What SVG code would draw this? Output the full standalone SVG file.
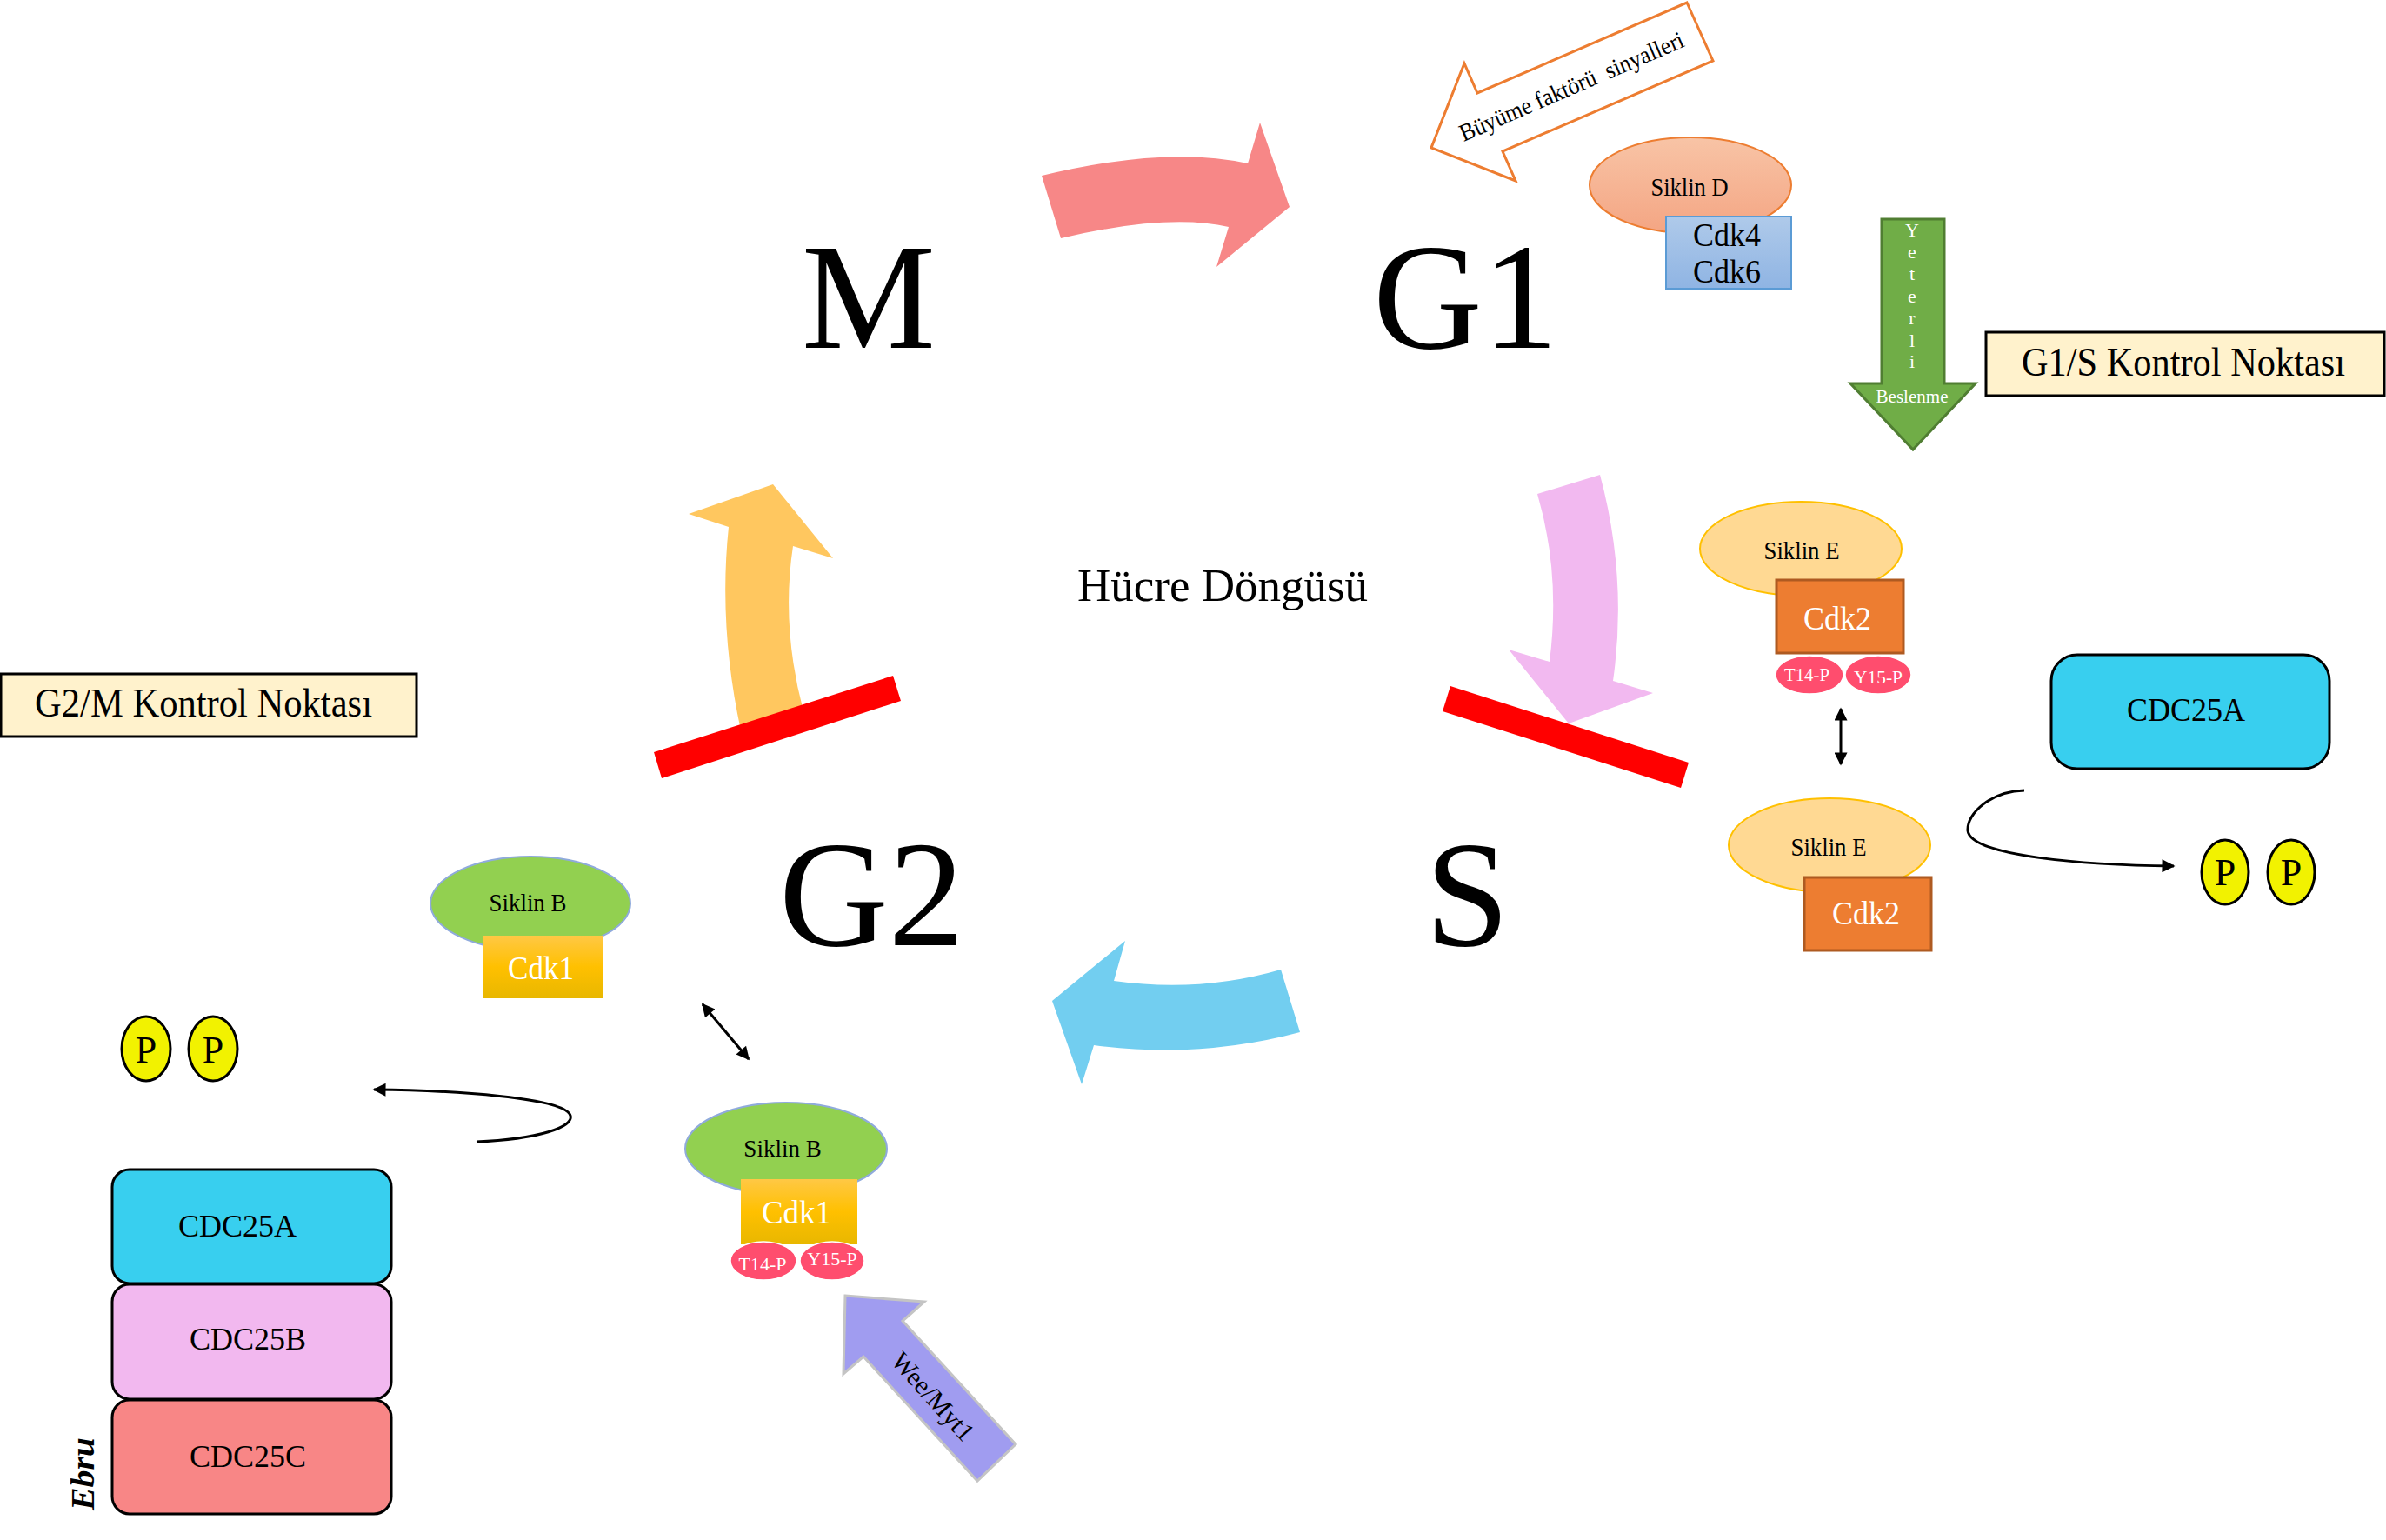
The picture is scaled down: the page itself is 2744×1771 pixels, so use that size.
<svg xmlns="http://www.w3.org/2000/svg" width="2744" height="1771" viewBox="0 0 2744 1771">
<defs>
<style>
text{font-family:"Liberation Serif","Times New Roman",serif;fill:#000}
.big{font-size:174px}
.w{fill:#fff}
.lbl{font-size:29px;text-anchor:middle}
.cdk{font-size:38px;text-anchor:middle}
.ph{font-size:22px;text-anchor:middle;fill:#fff}
.pt{font-size:44px;text-anchor:middle}
.pc{fill:#F2F200;stroke:#000;stroke-width:3}
.phos{fill:#FF4D6E;stroke:#fff;stroke-width:1.5}
.sikE{fill:#FFD993;stroke:#FFC000;stroke-width:2}
.sikB{fill:#92D050;stroke:#8FAADC;stroke-width:2}
.cdk2{fill:#ED7D31;stroke:#AE5A21;stroke-width:3}
.cdk1{fill:url(#gY)}
.ctl{fill:#FFF2CC;stroke:#000;stroke-width:3}
.cdc{stroke:#000;stroke-width:3}
.ln{fill:none;stroke:#000;stroke-width:3}
.bar{fill:#FF0000}
</style>
<linearGradient id="gD" x1="0" y1="0" x2="0" y2="1"><stop offset="0" stop-color="#F8C4A6"/><stop offset="1" stop-color="#F4A583"/></linearGradient>
<linearGradient id="gB" x1="0" y1="0" x2="0" y2="1"><stop offset="0" stop-color="#AFCAEA"/><stop offset="1" stop-color="#8FB4E3"/></linearGradient>
<linearGradient id="gY" x1="0" y1="0" x2="0" y2="1"><stop offset="0" stop-color="#FFC845"/><stop offset="0.5" stop-color="#FFC000"/><stop offset="1" stop-color="#E8B700"/></linearGradient>
<marker id="ah" viewBox="0 0 10 10" refX="9" refY="5" markerWidth="17" markerHeight="15" markerUnits="userSpaceOnUse" orient="auto-start-reverse"><path d="M0,0 L10,5 L0,10 z" fill="#000"/></marker>
</defs>
<rect width="2744" height="1771" fill="#fff"/>

<g id="phases">
<text class="big" x="922" y="400" textLength="154" lengthAdjust="spacingAndGlyphs">M</text>
<text class="big" x="1579" y="400">G1</text>
<text class="big" x="896" y="1087">G2</text>
<text class="big" x="1639" y="1087">S</text>
<text x="1239" y="691" style="font-size:53px">Hücre Döngüsü</text>
</g>

<g id="connectors">
<path d="M 1198 202 Q 1343 167 1435 188 L 1449 141 L 1483 238 L 1399 307 L 1413 261 Q 1343 245 1220 274 Z" fill="#F78787"/>
<path d="M 1768 568 L 1840 546 Q 1872 665 1855 783 L 1901 797 L 1804 832 L 1735 747 L 1782 761 Q 1795 660 1768 568 Z" fill="#F2B9F0"/>
<path d="M 1473 1115 L 1495 1187 Q 1380 1218 1258 1202 L 1244 1247 L 1210 1151 L 1294 1082 L 1281 1128 Q 1380 1142 1473 1115 Z" fill="#72CEF0"/>
<path d="M 889 557 L 958 642 L 912 628 Q 898 720 924 818 L 852 840 Q 826 720 838 606 L 792 591 Z" fill="#FFC75F"/>
<polygon class="bar" points="752,865 1027,777 1036,806 761,895"/>
<polygon class="bar" points="1668,789 1942,877 1933,906 1659,818"/>
<line class="ln" x1="2117" y1="815" x2="2117" y2="879" marker-start="url(#ah)" marker-end="url(#ah)"/>
<line class="ln" x1="808" y1="1155" x2="861" y2="1218" marker-start="url(#ah)" marker-end="url(#ah)"/>
<path class="ln" d="M 2328 909 C 2290 910 2262 935 2263 955 C 2266 985 2400 995 2500 996" marker-end="url(#ah)"/>
<path class="ln" d="M 548 1313 C 620 1310 660 1296 656 1283 C 650 1262 520 1254 430 1253" marker-end="url(#ah)"/>
</g>

<g id="buyume">
<polygon points="1940,3 1970,70 1728,174 1743,208 1646,170 1684,73 1699,107" fill="#fff" stroke="#ED7D31" stroke-width="3"/>
<text x="1811" y="108" text-anchor="middle" style="font-size:28px;white-space:pre" textLength="278" lengthAdjust="spacingAndGlyphs" transform="rotate(-23.3 1811 108)">Büyüme faktörü  sinyalleri</text>
</g>

<g id="siklinD">
<ellipse cx="1944" cy="213" rx="116" ry="55" fill="url(#gD)" stroke="#ED7D31" stroke-width="2"/>
<text class="lbl" x="1943" y="225" textLength="89" lengthAdjust="spacingAndGlyphs">Siklin D</text>
<rect x="1916" y="249" width="144" height="83" fill="url(#gB)" stroke="#5B9BD5" stroke-width="2"/>
<text class="cdk" x="1986" y="283" textLength="78" lengthAdjust="spacingAndGlyphs">Cdk4</text>
<text class="cdk" x="1986" y="325" textLength="78" lengthAdjust="spacingAndGlyphs">Cdk6</text>
</g>

<g id="beslenme">
<polygon points="2164,252 2236,252 2236,441 2272,441 2200,517 2128,441 2164,441" fill="#70AD47" stroke="#507E32" stroke-width="3"/>
<g style="font-size:22px;text-anchor:middle">
<text class="w" x="2199" y="272">Y</text>
<text class="w" x="2199" y="297">e</text>
<text class="w" x="2199" y="322">t</text>
<text class="w" x="2199" y="348">e</text>
<text class="w" x="2199" y="373">r</text>
<text class="w" x="2199" y="399">l</text>
<text class="w" x="2199" y="423">i</text>
<text class="w" x="2199" y="463" textLength="83" lengthAdjust="spacingAndGlyphs">Beslenme</text>
</g>
</g>

<g id="g1s">
<rect class="ctl" x="2284" y="382" width="458" height="73"/>
<text x="2511" y="432" text-anchor="middle" style="font-size:46px" textLength="372" lengthAdjust="spacingAndGlyphs">G1/S Kontrol Noktası</text>
</g>

<g id="siklinE1">
<ellipse class="sikE" cx="2071" cy="631" rx="116" ry="54"/>
<text class="lbl" x="2072" y="643" textLength="87" lengthAdjust="spacingAndGlyphs">Siklin E</text>
<rect class="cdk2" x="2043" y="667" width="146" height="84"/>
<text class="cdk w" x="2113" y="724" textLength="78" lengthAdjust="spacingAndGlyphs">Cdk2</text>
<ellipse class="phos" cx="2081" cy="776" rx="39" ry="22"/>
<text class="ph" x="2078" y="783" textLength="52" lengthAdjust="spacingAndGlyphs">T14-P</text>
<ellipse class="phos" cx="2160" cy="776" rx="38" ry="22"/>
<text class="ph" x="2160" y="786" textLength="56" lengthAdjust="spacingAndGlyphs">Y15-P</text>
</g>

<g id="siklinE2">
<ellipse class="sikE" cx="2104" cy="972" rx="116" ry="54"/>
<text class="lbl" x="2103" y="984" textLength="87" lengthAdjust="spacingAndGlyphs">Siklin E</text>
<rect class="cdk2" x="2075" y="1009" width="146" height="84"/>
<text class="cdk w" x="2146" y="1063" textLength="78" lengthAdjust="spacingAndGlyphs">Cdk2</text>
</g>

<g id="cdc25aRight">
<rect class="cdc" x="2359" y="753" width="320" height="131" rx="30" fill="#38CFEF"/>
<text class="cdk" x="2514" y="829" textLength="136" lengthAdjust="spacingAndGlyphs">CDC25A</text>
</g>

<g id="pRight">
<ellipse class="pc" cx="2559" cy="1003" rx="27" ry="37"/>
<text class="pt" x="2559" y="1018">P</text>
<ellipse class="pc" cx="2635" cy="1003" rx="27" ry="37"/>
<text class="pt" x="2635" y="1018">P</text>
</g>

<g id="g2m">
<rect class="ctl" x="1" y="775" width="478" height="72"/>
<text x="234" y="824" text-anchor="middle" style="font-size:46px" textLength="388" lengthAdjust="spacingAndGlyphs">G2/M Kontrol Noktası</text>
</g>

<g id="siklinB1">
<ellipse class="sikB" cx="610" cy="1039" rx="115" ry="54"/>
<text class="lbl" x="607" y="1048" textLength="89" lengthAdjust="spacingAndGlyphs">Siklin B</text>
<rect class="cdk1" x="556" y="1076" width="137" height="72"/>
<text class="cdk w" x="622" y="1126" textLength="76" lengthAdjust="spacingAndGlyphs">Cdk1</text>
</g>

<g id="pLeft">
<ellipse class="pc" cx="168" cy="1206" rx="28" ry="37"/>
<text class="pt" x="168" y="1222">P</text>
<ellipse class="pc" cx="245" cy="1206" rx="28" ry="37"/>
<text class="pt" x="245" y="1222">P</text>
</g>

<g id="cdc25">
<rect class="cdc" x="129" y="1345" width="321" height="131" rx="20" fill="#38CFEF"/>
<text class="cdk" x="273" y="1422" style="font-size:36px">CDC25A</text>
<rect class="cdc" x="129" y="1477" width="321" height="132" rx="20" fill="#F2B8EF"/>
<text class="cdk" x="285" y="1552" style="font-size:36px">CDC25B</text>
<rect class="cdc" x="129" y="1610" width="321" height="131" rx="20" fill="#F88686"/>
<text class="cdk" x="285" y="1687" style="font-size:36px">CDC25C</text>
</g>

<g id="siklinB2">
<ellipse class="sikB" cx="904" cy="1321" rx="116" ry="53"/>
<text class="lbl" x="900" y="1330" style="font-size:27px">Siklin B</text>
<rect class="cdk1" x="852" y="1356" width="134" height="75"/>
<text class="cdk w" x="916" y="1407" style="font-size:37px">Cdk1</text>
<ellipse class="phos" cx="878" cy="1450" rx="38" ry="22"/>
<text class="ph" x="877" y="1461">T14-P</text>
<ellipse class="phos" cx="957" cy="1450" rx="37" ry="22"/>
<text class="ph" x="957" y="1455">Y15-P</text>
</g>

<g id="weeMyt1">
<polygon points="972,1490 1063,1497 1038,1519 1168,1661 1124,1703 993,1560 970,1580" fill="#A09CF0" stroke="#C4C4C4" stroke-width="3"/>
<text x="1073" y="1616" text-anchor="middle" style="font-size:30px" transform="rotate(48 1073 1606)">Wee/Myt1</text>
</g>

<g id="signature">
<text x="95" y="1708" text-anchor="middle" style="font-size:38px;font-style:italic;font-weight:bold" textLength="84" lengthAdjust="spacingAndGlyphs" transform="rotate(-90 95 1695)">Ebru</text>
</g>
</svg>
